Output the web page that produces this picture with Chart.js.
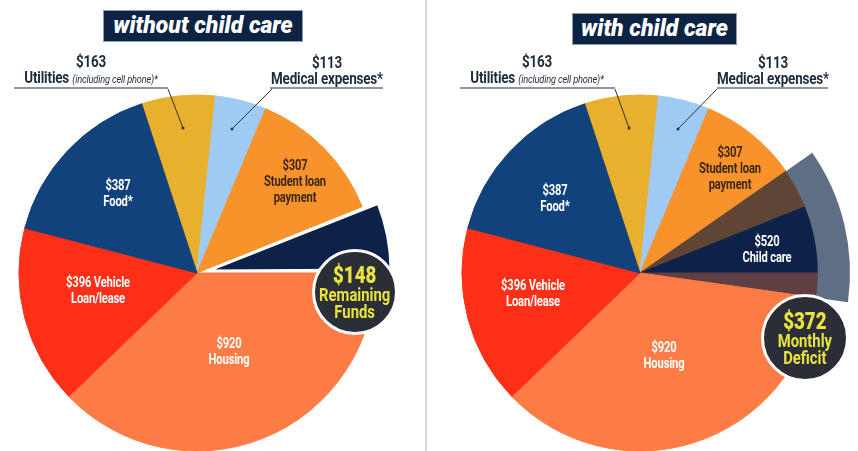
<!DOCTYPE html>
<html>
<head>
<meta charset="utf-8">
<script src="https://cdn.jsdelivr.net/npm/chart.js@4.4.1/dist/chart.umd.min.js"></script>
<style>
  body { margin: 0; width: 858px; height: 451px; overflow: hidden; background: #fff;
         font-family: Roboto, "Liberation Sans", sans-serif; }
  canvas.pie { position: absolute; left: 0; top: 0; }
  .divider { position: absolute; left: 425px; top: 0; width: 2px; height: 451px; background: #d6d6d6; }
  .title { position: absolute; height: 30px; background: #0d2344; border: 1px solid #8e9cb1; color: #fff;
           font: italic 900 23px Roboto, "Liberation Sans", sans-serif; text-align: center; line-height: 30px; }
  .lbl { position: absolute; transform: translate(-50%, -50%) scaleX(0.8); text-align: center; white-space: nowrap;
         font-weight: bold; font-size: 14px; line-height: 16px; letter-spacing: -0.2px; }
  .lbl.top { color: #1e2b3c; font-size: 16px; transform: translate(-50%, -50%) scaleX(0.84); }
  .top i { font-weight: normal; font-size: 11px; }
  .white { color: #fff; }
  .dark { color: #3a2815; }
  .badge { position: absolute; transform: translate(-50%, -50%); border-radius: 50%; background: #2b2e37;
           border: 3px solid #fff; color: #e9e33c; text-align: center; font-weight: bold;
           display: flex; flex-direction: column; justify-content: center; align-items: center; }
  .badge div { transform: scaleX(0.78); }
  .badge b { display: block; font-size: 24px; line-height: 21px; }
  .badge span { display: block; font-size: 19px; line-height: 17px; }
  svg { position: absolute; left: 0; top: 0; }
</style>
</head>
<body>
<canvas id="withoutChart" class="pie" width="858" height="451"></canvas>
<canvas id="withChart" class="pie" width="858" height="451"></canvas>
<div class="divider"></div>

<div class="title" style="left:103px; top:10px; width:198px;">without child care</div>
<div class="title" style="left:572px; top:13px; width:163px;">with child care</div>

<svg width="858" height="451">
  <g stroke="#8f959e" stroke-width="2">
    <line x1="14" y1="88" x2="168" y2="88"/>
    <line x1="270" y1="88" x2="383" y2="88"/>
    <line x1="460" y1="88" x2="615" y2="88"/>
    <line x1="717" y1="88" x2="828" y2="88"/>
  </g>
  <g stroke="#2d3138" stroke-width="1">
    <line x1="168" y1="89" x2="183" y2="128"/>
    <line x1="272" y1="89" x2="232" y2="129"/>
    <line x1="615" y1="89" x2="629" y2="128"/>
    <line x1="717" y1="89" x2="678" y2="129"/>
  </g>
  <g fill="#2d3138">
    <circle cx="183" cy="128" r="1.5"/><circle cx="232" cy="129" r="1.5"/>
    <circle cx="629" cy="128" r="1.5"/><circle cx="678" cy="129" r="1.5"/>
  </g>
</svg>

<!-- labels: without child care -->
<div class="lbl top" style="left:91px; top:71px;">$163<br>Utilities <i>(including cell phone)*</i></div>
<div class="lbl top" style="left:327px; top:71px;">$113<br>Medical expenses*</div>
<div class="lbl white" style="left:118px; top:193px;">$387<br>Food*</div>
<div class="lbl dark" style="left:295px; top:181px;">$307<br>Student loan<br>payment</div>
<div class="lbl white" style="left:98px; top:290px;">$396 Vehicle<br>Loan/lease</div>
<div class="lbl white" style="left:229px; top:351px;">$920<br>Housing</div>
<div class="badge" style="left:355px; top:292px; width:80px; height:80px;"><div><b>$148</b><span>Remaining</span><span>Funds</span></div></div>

<!-- labels: with child care -->
<div class="lbl top" style="left:537px; top:71px;">$163<br>Utilities <i>(including cell phone)*</i></div>
<div class="lbl top" style="left:773px; top:71px;">$113<br>Medical expenses*</div>
<div class="lbl white" style="left:555px; top:198px;">$387<br>Food*</div>
<div class="lbl dark" style="left:730px; top:168px;">$307<br>Student loan<br>payment</div>
<div class="lbl white" style="left:767px; top:249px;">$520<br>Child care</div>
<div class="lbl white" style="left:533px; top:293px;">$396 Vehicle<br>Loan/lease</div>
<div class="lbl white" style="left:664px; top:355px;">$920<br>Housing</div>
<div class="badge" style="left:805px; top:338px; width:82px; height:82px;"><div><b>$372</b><span>Monthly</span><span>Deficit</span></div></div>

<script>
// monthly budget, clockwise from the top
const categories = ['Utilities (including cell phone)*', 'Medical expenses*', 'Student loan payment',
                    'Remaining funds', 'Housing', 'Vehicle loan/lease', 'Food*'];
const withoutCare = [163, 113, 307, 148, 920, 396, 387];
const sliceColors = ['#e9b02e', '#9fcaf3', '#f8922b', '#0c2248', '#fd7b45', '#fd2f17', '#11427b'];

const childCare = 520;
const monthlyDeficit = 372;
// how far the child care wedge runs over student loan and housing
const overlapLoan = 88;
const overlapHousing = 54;

const total = withoutCare.reduce((a, b) => a + b, 0);
// housing starts at 3 o'clock
const rotation = 90 - (withoutCare[0] + withoutCare[1] + withoutCare[2] + withoutCare[3]) / total * 360;

function pieOptions(padLeft, padRight, radius) {
    return {
        responsive: false,
        animation: false,
        events: [],
        rotation: rotation,
        radius: radius,
        layout: { padding: { left: padLeft, right: padRight, top: 95, bottom: 0 } },
        plugins: { legend: { display: false }, tooltip: { enabled: false } }
    };
}

// without child care
new Chart(document.getElementById('withoutChart'), {
    type: 'pie',
    data: {
        labels: categories,
        datasets: [{
            data: withoutCare,
            backgroundColor: sliceColors,
            borderColor: sliceColors.map((c, i) => i === 3 ? '#ffffff' : c),
            borderWidth: withoutCare.map((v, i) => i === 3 ? 3 : 1),
            offset: withoutCare.map((v, i) => i === 3 ? 40 : 0),
            clip: false
        }]
    },
    options: pieOptions(0, 464, 178)
});

// with child care: child care fills the remaining funds and spills over its neighbours
const withCareLabels = ['Utilities', 'Medical expenses', 'Student loan payment', 'Student loan / child care overlap',
                        'Child care', 'Housing / child care overlap', 'Housing', 'Vehicle loan/lease', 'Food'];
const withCare = [163, 113, 307 - overlapLoan, overlapLoan, childCare - monthlyDeficit,
                  overlapHousing, 920 - overlapHousing, 396, 387];
const withCareColors = ['#e9b02e', '#9fcaf3', '#f8922b', '#5e4535', '#0c2248', '#5f3f43', '#fd7b45', '#fd2f17', '#11427b'];

const bandBefore = 163 + 113 + 307 - overlapLoan;
const bandSize = overlapLoan + (childCare - monthlyDeficit) + overlapHousing;
const deficitBand = [bandBefore, bandSize, total - bandBefore - bandSize];

new Chart(document.getElementById('withChart'), {
    type: 'pie',
    data: {
        labels: withCareLabels,
        datasets: [{
            label: 'Deficit',
            data: deficitBand,
            backgroundColor: ['rgba(0,0,0,0)', '#5d6e85', 'rgba(0,0,0,0)'],
            borderWidth: 0,
            weight: 32,
            clip: false
        }, {
            label: 'With child care',
            data: withCare,
            backgroundColor: withCareColors,
            borderColor: withCareColors,
            borderWidth: 1,
            weight: 178,
            clip: false
        }]
    },
    options: pieOptions(440, 18, 210)
});
</script>
</body>
</html>
